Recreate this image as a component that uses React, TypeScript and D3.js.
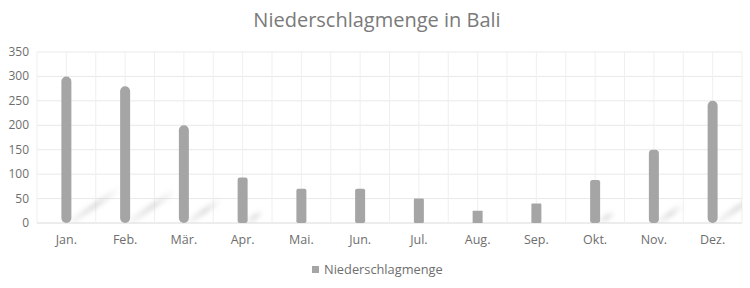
import React from "react";
import * as d3 from "d3";

const months = ["Jan.", "Feb.", "Mär.", "Apr.", "Mai.", "Jun.", "Jul.", "Aug.", "Sep.", "Okt.", "Nov.", "Dez."];
const rainfall = [300, 280, 200, 93, 70, 70, 50, 25, 40, 88, 150, 250];
const yTicks = [0, 50, 100, 150, 200, 250, 300, 350];
const title = "Niederschlagmenge in Bali";
const seriesName = "Niederschlagmenge";

const W = 750, H = 288;
const M = { left: 37, right: 742, top: 52, bottom: 223 };
const FONT = "'Open Sans', 'Noto Sans', sans-serif";

export default function App() {
  const x = d3.scaleBand<string>().domain(months).range([M.left, M.right]).padding(0);
  const y = d3.scaleLinear().domain([0, 350]).range([M.bottom, M.top]);
  const bw = 10;
  const half = x.bandwidth() / 2;
  const vLines: number[] = [];
  months.forEach((m) => {
    vLines.push(x(m)!);
    vLines.push(x(m)! + half);
  });
  vLines.push(M.right);

  return (
    <svg width={W} height={H} style={{ position: "absolute", left: 0, top: 0, background: "#fff" }}>
      <defs>
        <filter id="blur" x="-50%" y="-50%" width="200%" height="200%">
          <feGaussianBlur stdDeviation="2" />
        </filter>
        <clipPath id="plot">
          <rect x={M.left} y={M.top} width={M.right - M.left} height={M.bottom - M.top} />
        </clipPath>
      </defs>
      <text x={377} y={27} textAnchor="middle" fontFamily={FONT} fontSize={20} fill="#7a7a7a">{title}</text>
      {yTicks.map((t) => (
        <g key={t}>
          <line x1={M.left} x2={M.right} y1={y(t)} y2={y(t)} stroke={t === 0 ? "#dadada" : "#e9e9e9"} strokeWidth={1} />
          <text x={29} y={y(t) + 4} textAnchor="end" fontFamily={FONT} fontSize={12} fill="#6e6e6e">{t}</text>
        </g>
      ))}
      {vLines.map((v, i) => (
        <line key={i} x1={v} x2={v} y1={M.top} y2={M.bottom} stroke="#efefef" strokeWidth={1} />
      ))}
      <g clipPath="url(#plot)">
        {rainfall.map((v, i) => {
          const cx = x(months[i])! + half;
          const h = M.bottom - y(v);
          if (h < 40) return null;
          const x0 = cx + 5, y0 = M.bottom - 1;
          const x1 = x0 + h * 0.33, y1 = y0 - h * 0.23;
          const gid = `sg${i}`;
          return (
            <g key={i}>
              <linearGradient id={gid} gradientUnits="userSpaceOnUse" x1={x0} y1={y0} x2={x1} y2={y1}>
                <stop offset="0" stopColor="#c4c4c4" stopOpacity={0.15} />
                <stop offset="0.5" stopColor="#c4c4c4" stopOpacity={0.5} />
                <stop offset="1" stopColor="#c4c4c4" stopOpacity={0} />
              </linearGradient>
              <line x1={x0} y1={y0} x2={x1} y2={y1} stroke={`url(#${gid})`} strokeWidth={6} filter="url(#blur)" />
            </g>
          );
        })}
      </g>
      {rainfall.map((v, i) => {
        const cx = x(months[i])! + half;
        const h = M.bottom - y(v);
        const r = Math.min(5, h / 20);
        return (
          <rect key={i} x={cx - bw / 2} y={y(v)} width={bw} height={h} rx={r} ry={r} fill="#a5a5a5" />
        );
      })}
      {months.map((m) => (
        <text key={m} x={x(m)! + half} y={244} textAnchor="middle" fontFamily={FONT} fontSize={12.5} fill="#6e6e6e">{m}</text>
      ))}
      <rect x={312} y={266} width={7} height={7} fill="#a5a5a5" />
      <text x={324} y={274} fontFamily={FONT} fontSize={12.8} fill="#6e6e6e">{seriesName}</text>
    </svg>
  );
}
